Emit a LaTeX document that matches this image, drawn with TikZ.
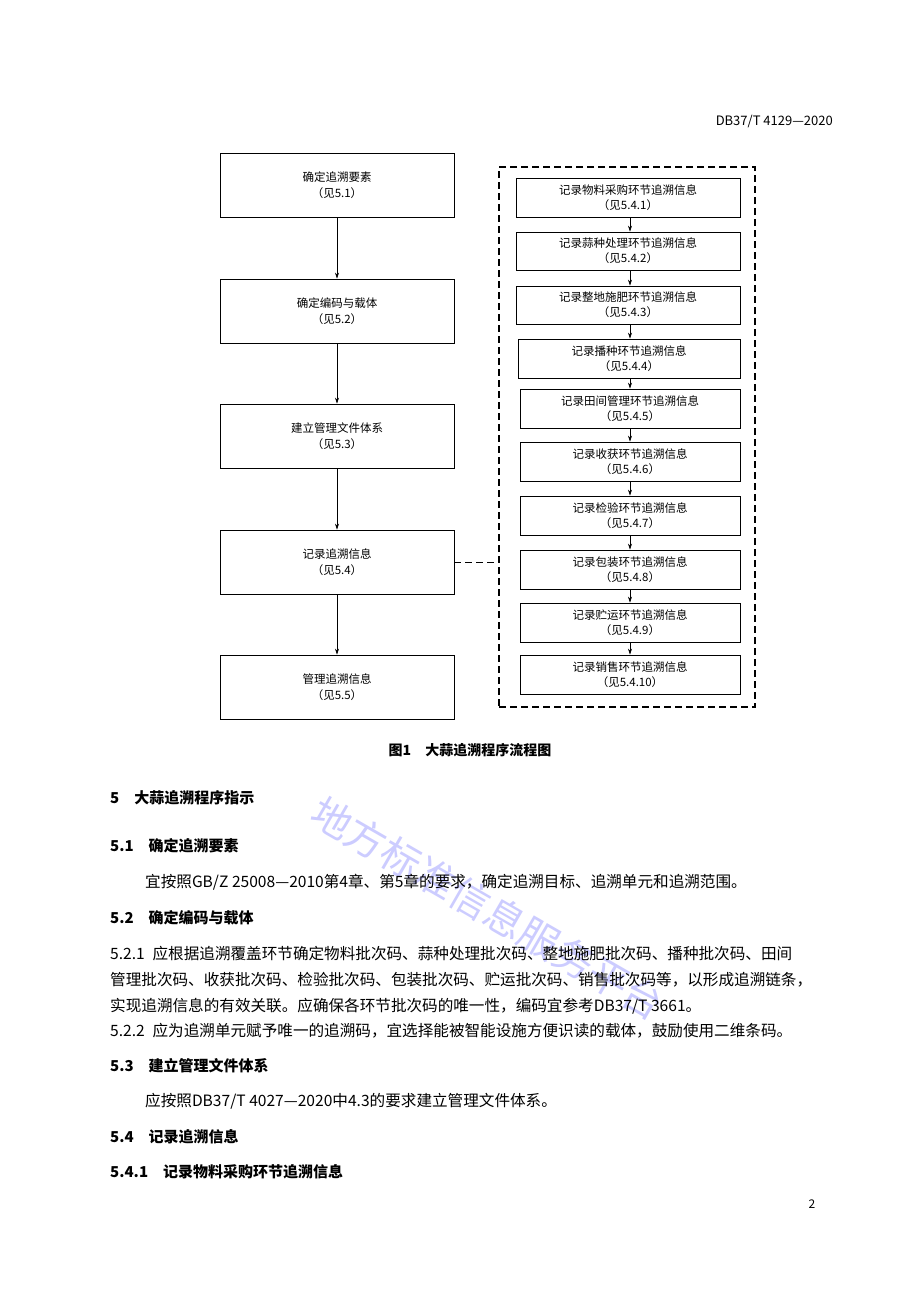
\documentclass[tikz,border=0pt]{standalone}
\usepackage{fontspec}
\setmainfont{Noto Sans CJK SC}
\usetikzlibrary{arrows.meta}
\begin{document}
\begin{tikzpicture}[x=1pt,y=-1pt,
  lbox/.style={draw,line width=0.8pt,minimum width=234pt,minimum height=64pt,align=center,font=\fontsize{11.5}{16}\selectfont},
  rbox/.style={draw,line width=0.8pt,minimum height=39pt,align=center,font=\fontsize{11.5}{15}\selectfont,inner sep=0pt},
  arr/.style={-{Stealth[length=6pt,width=4pt]},line width=0.6pt},
  dsh/.style={dash pattern=on 7pt off 4pt},
  body/.style={anchor=west,inner sep=0pt,font=\fontsize{15.6}{18}\selectfont},
  head/.style={anchor=west,inner sep=0pt,font=\fontsize{15}{18}\selectfont\bfseries}]
\useasboundingbox (0,0) rectangle (920,1302);
\fill[white] (0,0) rectangle (920,1302);
\node[anchor=east,inner sep=0pt,font=\fontsize{13}{15}\selectfont] (hdr) at (833,121) {DB37/T 4129—2020};
% left column
\node[lbox] (L1) at (337,185) {确定追溯要素\\（见5.1）};
\node[lbox] (L2) at (337,311) {确定编码与载体\\（见5.2）};
\node[lbox] (L3) at (337,436) {建立管理文件体系\\（见5.3）};
\node[lbox] (L4) at (337,562) {记录追溯信息\\（见5.4）};
\node[lbox] (L5) at (337,687) {管理追溯信息\\（见5.5）};
\foreach \a/\b in {L1/L2,L2/L3,L3/L4,L4/L5}{\draw[arr] (\a) -- (\b);}
% dashed frame
\node[draw,dsh,line width=1.2pt,minimum width=256pt,minimum height=540pt,inner sep=0pt] (F) at (627,437) {};
\draw[dsh,line width=1pt] (L4.east) -- (L4.east -| F.west);
% right column
\node[rbox,minimum width=224pt] (R1) at (628,197.5) {记录物料采购环节追溯信息\\（见5.4.1）};
\node[rbox,minimum width=224pt,minimum height=38pt] (R2) at (628,251) {记录蒜种处理环节追溯信息\\（见5.4.2）};
\node[rbox,minimum width=224pt,minimum height=38pt] (R3) at (628,305) {记录整地施肥环节追溯信息\\（见5.4.3）};
\node[rbox,minimum width=222pt] (R4) at (629,358.5) {记录播种环节追溯信息\\（见5.4.4）};
\node[rbox,minimum width=220pt] (R5) at (630,408.5) {记录田间管理环节追溯信息\\（见5.4.5）};
\node[rbox,minimum width=220pt] (R6) at (630,461.5) {记录收获环节追溯信息\\（见5.4.6）};
\node[rbox,minimum width=220pt] (R7) at (630,515.5) {记录检验环节追溯信息\\（见5.4.7）};
\node[rbox,minimum width=220pt] (R8) at (630,569.5) {记录包装环节追溯信息\\（见5.4.8）};
\node[rbox,minimum width=220pt] (R9) at (630,622.5) {记录贮运环节追溯信息\\（见5.4.9）};
\node[rbox,minimum width=220pt] (R10) at (630,674.5) {记录销售环节追溯信息\\（见5.4.10）};
\foreach \a/\b in {R1/R2,R2/R3,R3/R4,R4/R5,R5/R6,R6/R7,R7/R8,R8/R9,R9/R10}{\draw[arr] (\a.south -| R10) -- (\b.north -| R10);}
\node[inner sep=0pt,font=\fontsize{14}{16}\selectfont\bfseries] (cap) at (470,750) {图1\quad 大蒜追溯程序流程图};
% watermark
\node[rotate=-30,text=blue!20,font=\fontsize{40}{40}\selectfont,inner sep=0pt] (wm) at (488,908) {地方标准信息服务平台};
% body text
\node[head] (t1) at (110,798) {5\quad 大蒜追溯程序指示};
\node[head] (t2) at (110,846) {5.1\quad 确定追溯要素};
\node[body] (t3) at (145,882) {宜按照GB/Z 25008—2010第4章、第5章的要求，确定追溯目标、追溯单元和追溯范围。};
\node[head] (t4) at (110,918) {5.2\quad 确定编码与载体};
\node[body] (t5) at (110,954) {5.2.1\enspace 应根据追溯覆盖环节确定物料批次码、蒜种处理批次码、整地施肥批次码、播种批次码、田间};
\node[body] (t6) at (110,980) {管理批次码、收获批次码、检验批次码、包装批次码、贮运批次码、销售批次码等，以形成追溯链条，};
\node[body] (t7) at (110,1006) {实现追溯信息的有效关联。应确保各环节批次码的唯一性，编码宜参考DB37/T 3661。};
\node[body] (t8) at (110,1031) {5.2.2\enspace 应为追溯单元赋予唯一的追溯码，宜选择能被智能设施方便识读的载体，鼓励使用二维条码。};
\node[head] (t9) at (110,1066) {5.3\quad 建立管理文件体系};
\node[body] (t10) at (145,1101) {应按照DB37/T 4027—2020中4.3的要求建立管理文件体系。};
\node[head] (t11) at (110,1137) {5.4\quad 记录追溯信息};
\node[head] (t12) at (110,1172) {5.4.1\quad 记录物料采购环节追溯信息};
\node[inner sep=0pt,font=\fontsize{12}{14}\selectfont] (pg) at (812,1204) {2};
\end{tikzpicture}
\end{document}
